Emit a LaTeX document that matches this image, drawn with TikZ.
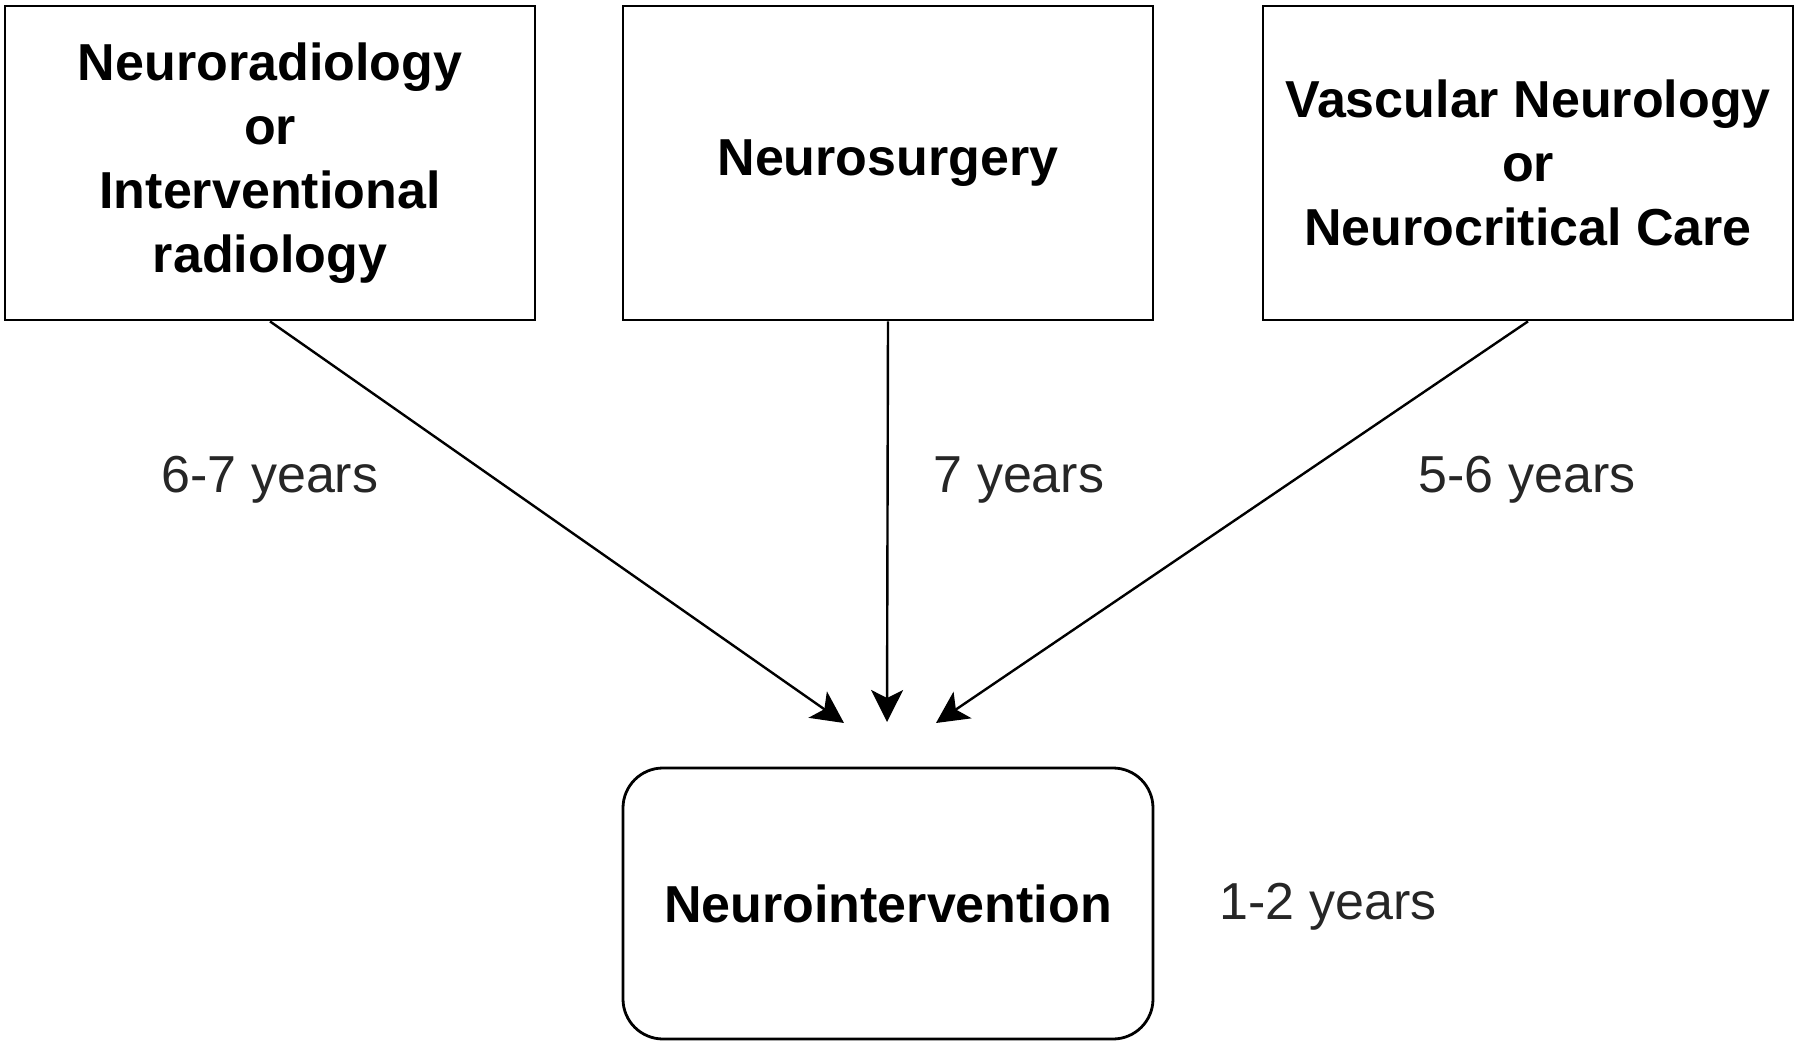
\documentclass[tikz,border=0pt]{standalone}
\usepackage{fontspec}
\setmainfont{Liberation Sans}
\usetikzlibrary{arrows.meta}
\begin{document}
\begin{tikzpicture}[x=0.5pt,y=-0.5pt,
  box/.style={draw=black,line width=1.4pt,minimum width=265pt,minimum height=157pt,
    align=center,inner sep=0pt,font=\fontsize{26}{32}\selectfont\bfseries},
  rbox/.style={box,rounded corners=20pt,minimum height=135.5pt},
  lbl/.style={font=\fontsize{26}{32}\selectfont,text=black!85,inner sep=0pt},
  conn/.style={line width=1.2pt,-{Stealth[length=16pt,width=16pt,inset=4pt]}}]
\useasboundingbox (0,0) rectangle (1800,1043);
\node[box] (nr) at (270,163) {Neuroradiology\\or\\Interventional\\radiology};
\node[box] (ns) at (888,163) {Neurosurgery};
\node[box] (vn) at (1528,163) {Vascular Neurology\\or\\Neurocritical Care};
\node[rbox] (ni) at (888,903.5) {Neurointervention};
\coordinate (e1) at (844,723);
\coordinate (e2) at (887,722);
\coordinate (e3) at (936,723);
\draw[conn] (nr.south) -- (e1);
\draw[conn] (ns.south) -- (e2);
\draw[conn] (vn.south) -- (e3);
\node[lbl] (l1) at (270,480) {6-7 years};
\node[lbl] (l2) at (1019,480) {7 years};
\node[lbl] (l3) at (1527,480) {5-6 years};
\node[lbl] (l4) at (1328,907) {1-2 years};
\end{tikzpicture}
\end{document}
